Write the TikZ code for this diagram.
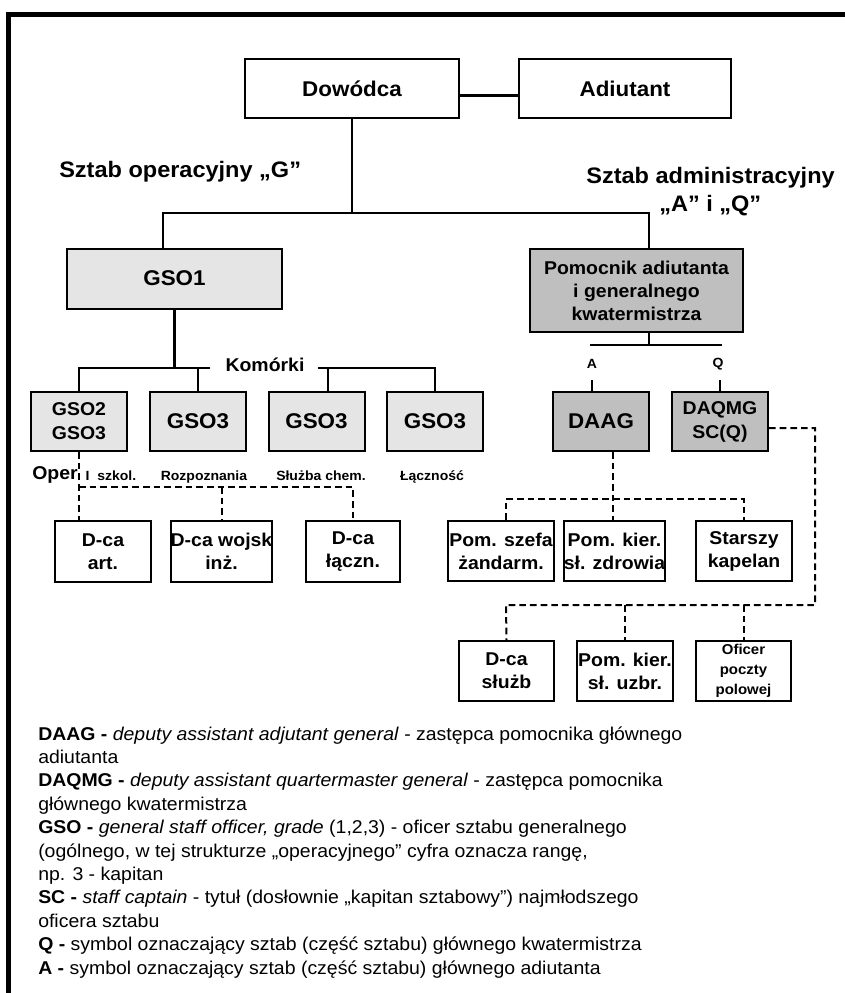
\documentclass[tikz,border=0pt]{standalone}
\usepackage{fontspec}
\setmainfont{Liberation Sans}[FakeStretch=1.05]
\tikzset{
  sz/.style n args={2}{minimum width=#1*0.75pt, minimum height=#2*0.75pt},
  box/.style={draw, line width=1.5pt, inner sep=0pt, align=center, fill=white,
    font=\bfseries\fontsize{13.9}{17.3}\selectfont},
  big/.style={font=\bfseries\fontsize{16}{18}\selectfont},
  lightbox/.style={box, fill=black!10},
  darkbox/.style={box, fill=black!25},
  link/.style={line width=2.2pt},
  dlink/.style={line width=1.5pt, dash pattern=on 5pt off 3pt},
  tag/.style={inner sep=0pt, font=\bfseries\fontsize{10}{11}\selectfont},
  label/.style={inner sep=0pt, font=\bfseries\fontsize{13.9}{16}\selectfont},
  head/.style={inner sep=0pt, font=\bfseries\fontsize{16.8}{19}\selectfont},
  legendline/.style={inner sep=0pt, anchor=base west, font=\fontsize{13.9}{16}\selectfont}
}
\begin{document}
\begin{tikzpicture}[x=0.75pt,y=-0.75pt]
\useasboundingbox (0,0) rectangle (845,993);

% frame along the top and left edges
\draw[line width=3.75pt] (8.5,993) -- (8.5,14) -- (845,14);

% commander and adjutant
\node[box,big,sz={214}{59}] (cmd) at (352,88.5) {Dowódca};
\node[box,big,sz={212}{59}] (adj) at (625,88.5) {Adiutant};
\draw[link] ([yshift=-5pt]cmd.east) -- ([yshift=-5pt]adj.west);

% staff headings
\node[head,anchor=base west] (hg) at (59,177) {Sztab operacyjny „G”};
\node[head,anchor=base east] (ha) at (835,183) {Sztab administracyjny};
\node[head,anchor=base west] (haq) at (659,211) {„A” i „Q”};

% first level
\node[lightbox,big,sz={215}{60}] (gso1) at (174.5,278.5) {GSO1};
\node[darkbox,sz={213}{83}] (pom) at (636.5,290.5) {Pomocnik adiutanta\\i generalnego\\kwatermistrza};

\coordinate (lj) at (163,213);
\coordinate (rj) at (649,213);
\draw[link] (cmd.south) -- (cmd.south |- lj);
\draw[link] (gso1.north -| lj) -- (lj) -- (rj) -- (pom.north -| rj);

% cells of the operational staff
\node[lightbox,sz={96}{59},font=\bfseries\fontsize{13.9}{18}\selectfont] (gso2) at (79,421.5) {GSO2\\GSO3};
\node[lightbox,big,sz={96}{59}] (gso3a) at (198,421.5) {GSO3};
\node[lightbox,big,sz={96}{59}] (gso3b) at (316.5,421.5) {GSO3};
\node[lightbox,big,sz={96}{59}] (gso3c) at (435,421.5) {GSO3};

\node[label] (kom) at (265,365) {Komórki};
\coordinate (k1) at (79,368);
\coordinate (k2) at (198,368);
\coordinate (kl) at (210,368);
\coordinate (kr) at (318,368);
\coordinate (k3) at (328,368);
\coordinate (k4) at (435,368);
\draw[link] (gso1.south) -- (gso1.south |- k1);
\draw[link] (gso2.north) -- (k1) -- (kl);
\draw[link] (gso3a.north -| k2) -- (k2);
\draw[link] (kr) -- (k4) -- (gso3c.north);
\draw[link] (gso3b.north -| k3) -- (k3);

% cell names
\node[label,anchor=base west] (oper) at (32,479) {Oper};
\node[tag,anchor=base] (t1) at (111,480) {I~~szkol.};
\node[tag,anchor=base] (t2) at (204,480) {Rozpoznania};
\node[tag,anchor=base] (t3) at (321,480) {Służba chem.};
\node[tag,anchor=base] (t4) at (432,480) {Łączność};

% arms commanders
\node[box,sz={96}{61}] (dart) at (103,551.5) {D-ca\\art.};
\node[box,sz={95}{61}] (dwoj) at (221.5,551.5) {D-ca wojsk\\inż.};
\node[box,sz={94}{61}] (dlacz) at (353,551.5) {D-ca\\łączn.};
\coordinate (d1) at (79,487);
\coordinate (d3) at (353,487);
\draw[dlink] (gso2.south) -- (dart.north -| gso2.south);
\draw[dlink] (d1) -- (d3) -- (dlacz.north);
\draw[dlink] (dwoj.north |- d1) -- (dwoj.north);

% A and Q branches
\node[darkbox,big,sz={96}{59}] (daag) at (601,421.5) {DAAG};
\node[darkbox,sz={96}{59},font=\bfseries\fontsize{13.9}{18}\selectfont] (daqmg) at (720,421.5) {DAQMG\\SC(Q)};
\coordinate (pj) at (649,345);
\coordinate (pl) at (590,345);
\coordinate (pr) at (722,345);
\draw[link] (pom.south -| pj) -- (pj);
\draw[link] (pl) -- (pr);
\node[tag] (la) at (592,364) {A};
\node[tag] (lq) at (718,364) {Q};
\coordinate (at) at (592,380);
\coordinate (qt) at (720,380);
\draw[link] (at) -- (at |- daag.north);
\draw[link] (qt) -- (qt |- daqmg.north);

% under DAAG
\node[box,sz={106}{60}] (psz) at (501,551) {Pom. szefa\\żandarm.};
\node[box,sz={97}{60}] (pkz) at (614.5,551) {Pom. kier.\\sł. zdrowia};
\node[box,sz={96}{60}] (kap) at (744,551) {Starszy\\kapelan};
\coordinate (dv) at (613,499);
\coordinate (h1) at (506,499);
\coordinate (h2) at (744,499);
\draw[dlink] (daag.south -| dv) -- (dv |- pkz.north);
\draw[dlink] (psz.north -| h1) -- (h1) -- (h2) -- (kap.north);

% under DAQMG
\node[box,sz={95}{60}] (dsl) at (506.5,671) {D-ca\\służb};
\node[box,sz={96}{60}] (pku) at (625,671) {Pom. kier.\\sł. uzbr.};
\node[box,sz={95}{60},font=\bfseries\fontsize{10.7}{15}\selectfont] (ofp) at (743.5,671) {Oficer\\poczty\\polowej};
\coordinate (q2) at (815,605);
\coordinate (q3) at (506,605);
\draw[dlink] ([yshift=-4.9pt]daqmg.east) -| (q2) -- (q3) -- (dsl.north);
\draw[dlink] (pku.north |- q3) -- (pku.north);
\draw[dlink] (ofp.north |- q3) -- (ofp.north);

% legend, one line per node
\node[legendline] (l1) at (38,740) {\textbf{DAAG -} \textit{deputy assistant adjutant general} - zastępca pomocnika głównego};
\node[legendline] (l2) at (38,763.4) {adiutanta};
\node[legendline] (l3) at (38,786.8) {\textbf{DAQMG -} \textit{deputy assistant quartermaster general} - zastępca pomocnika};
\node[legendline] (l4) at (38,810.2) {głównego kwatermistrza};
\node[legendline] (l5) at (38,833.6) {\textbf{GSO -} \textit{general staff officer, grade} (1,2,3) - oficer sztabu generalnego};
\node[legendline] (l6) at (38,857) {(ogólnego, w tej strukturze „operacyjnego” cyfra oznacza rangę,};
\node[legendline] (l7) at (38,880.4) {np. 3 - kapitan};
\node[legendline] (l8) at (38,903.8) {\textbf{SC -} \textit{staff captain} - tytuł (dosłownie „kapitan sztabowy”) najmłodszego};
\node[legendline] (l9) at (38,927.2) {oficera sztabu};
\node[legendline] (l10) at (38,950.6) {\textbf{Q -} symbol oznaczający sztab (część sztabu) głównego kwatermistrza};
\node[legendline] (l11) at (38,974) {\textbf{A -} symbol oznaczający sztab (część sztabu) głównego adiutanta};
\end{tikzpicture}
\end{document}
